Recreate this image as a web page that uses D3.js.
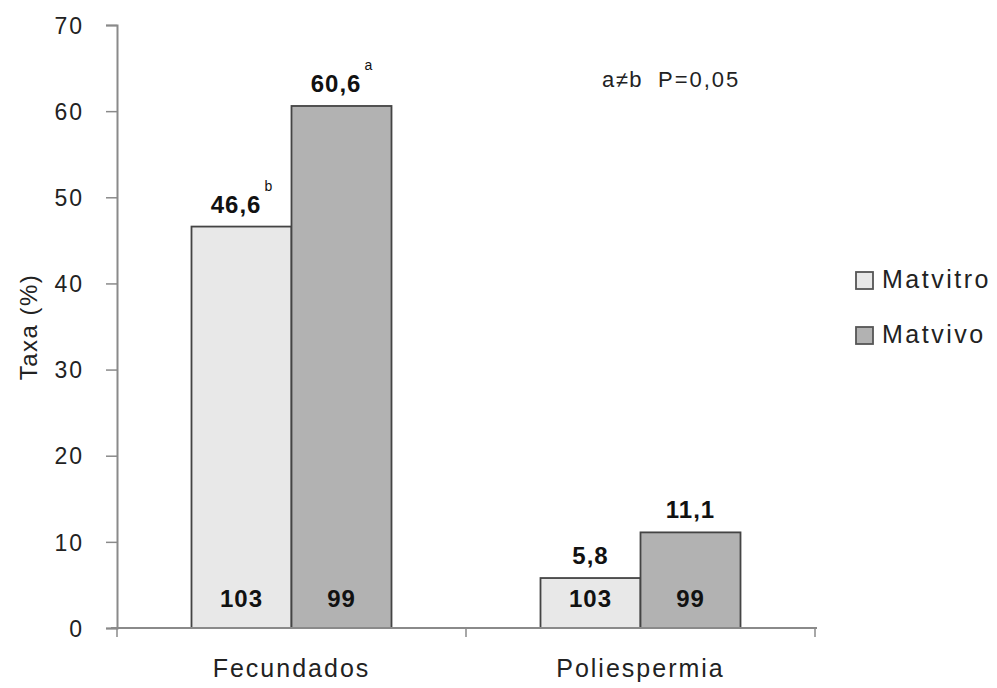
<!DOCTYPE html>
<html><head><meta charset="utf-8">
<script src="https://cdn.jsdelivr.net/npm/d3@7"></script>
<style>body{margin:0;background:#fff}svg{display:block}text{font-family:"Liberation Sans",Arial,sans-serif}</style>
</head><body>
<svg id="c" width="997" height="688"></svg>
<script>
const categories = ["Fecundados", "Poliespermia"];
const seriesNames = ["Matvitro", "Matvivo"];
const matvitro = [46.6, 5.8];
const matvivo = [60.6, 11.1];
const valueLabels = [["46,6", "5,8"], ["60,6", "11,1"]];
const superscripts = [["b", ""], ["a", ""]];
const counts = [[103, 103], [99, 99]];
const yTicks = [0, 10, 20, 30, 40, 50, 60, 70];
const colors = ["#e8e8e8", "#b2b2b2"];
const series = [matvitro, matvivo];

const svg = d3.select("#c");
const m = {l:117, r:815, t:25, b:628};
const x0 = d3.scaleBand().domain(categories).range([m.l, m.r]).paddingInner(0).paddingOuter(0);
const x1 = d3.scaleBand().domain(seriesNames).range([0, x0.bandwidth()]).paddingInner(0).paddingOuter(0.745);
const y = d3.scaleLinear().domain([0, 70]).range([m.b, m.t]);

// y axis
const ya = svg.append("g").attr("transform", `translate(${m.l},0)`)
  .call(d3.axisLeft(y).tickValues(yTicks).tickSize(11).tickPadding(22).tickFormat(d3.format("d")));
ya.select(".domain").attr("stroke", "#8a8a8a").attr("stroke-width", 2);
ya.selectAll(".tick line").attr("stroke", "#8a8a8a").attr("stroke-width", 1.5);
ya.selectAll(".tick text").attr("font-size", 23).attr("fill", "#222").attr("letter-spacing", 2).attr("dy", "0.36em");

// bars
const g = svg.append("g");
categories.forEach((c, ci) => {
  seriesNames.forEach((s, si) => {
    const v = series[si][ci];
    const bx = x0(c) + x1(s);
    g.append("rect").attr("x", bx).attr("y", y(v)).attr("width", x1.bandwidth()).attr("height", y(0) - y(v))
      .attr("fill", colors[si]).attr("stroke", "#444").attr("stroke-width", 1.8);
    const cx = bx + x1.bandwidth() / 2;
    const t = g.append("text").attr("x", cx).attr("y", y(v) - 14).attr("text-anchor", "middle")
      .attr("font-size", 24).attr("font-weight", "bold").attr("fill", "#111").attr("letter-spacing", 1).text(valueLabels[si][ci]);
    if (superscripts[si][ci]) {
      const w = t.node().getComputedTextLength();
      const st = g.append("text").attr("y", y(v) - 36).attr("font-size", 14).attr("fill", "#111")
        .text(superscripts[si][ci]);
      const sw = st.node().getComputedTextLength();
      const total = w + 3 + sw;
      t.attr("text-anchor", "start").attr("x", cx - total / 2);
      st.attr("x", cx - total / 2 + w + 3);
    }
    g.append("text").attr("x", cx).attr("y", y(0) - 21).attr("text-anchor", "middle")
      .attr("font-size", 24).attr("font-weight", "bold").attr("fill", "#111").attr("letter-spacing", 1).text(counts[si][ci]);
  });
});

// x axis
const xa = svg.append("g").attr("transform", `translate(0,${m.b})`);
xa.append("line").attr("x1", m.l - 6).attr("x2", m.r + 2).attr("stroke", "#8a8a8a").attr("stroke-width", 2);
[m.l, (m.l + m.r) / 2, m.r].forEach(px => xa.append("line").attr("x1", px).attr("x2", px).attr("y1", 0).attr("y2", 9)
  .attr("stroke", "#8a8a8a").attr("stroke-width", 1.5));
categories.forEach(c => xa.append("text").attr("x", x0(c) + x0.bandwidth() / 2).attr("y", 49).attr("text-anchor", "middle")
  .attr("font-size", 25).attr("letter-spacing", 2).attr("fill", "#222").text(c));

// y title
svg.append("text").attr("transform", "translate(37,327) rotate(-90)").attr("text-anchor", "middle")
  .attr("font-size", 24).attr("letter-spacing", 1.5).attr("fill", "#222").text("Taxa (%)");

// annotation
svg.append("text").attr("x", 602).attr("y", 87).attr("font-size", 22).attr("letter-spacing", 1.5).attr("fill", "#222").text("a≠b");
svg.append("text").attr("x", 658).attr("y", 87).attr("font-size", 22).attr("letter-spacing", 2).attr("fill", "#222").text("P=0,05");

// legend
const lg = svg.append("g");
seriesNames.forEach((s, i) => {
  const ly = 272 + i * 55;
  lg.append("rect").attr("x", 856).attr("y", ly).attr("width", 17).attr("height", 17).attr("fill", colors[i])
    .attr("stroke", "#555").attr("stroke-width", 1.8);
  lg.append("text").attr("x", 882).attr("y", ly + 16).attr("font-size", 25).attr("letter-spacing", 2.5).attr("fill", "#222").text(s);
});
</script>
</body></html>
